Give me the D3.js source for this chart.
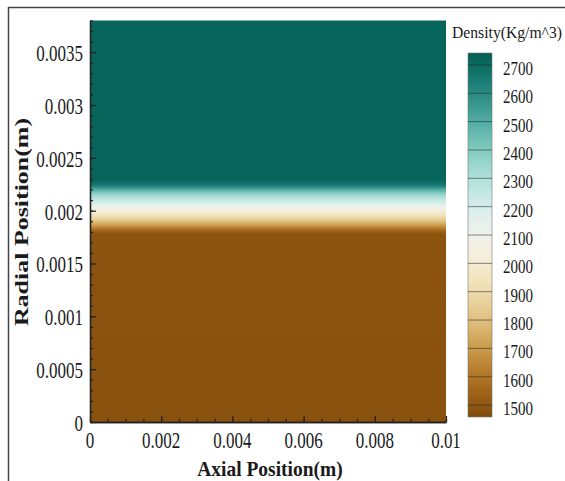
<!DOCTYPE html>
<html>
<head>
<meta charset="utf-8">
<script src="https://cdn.jsdelivr.net/npm/d3@7"></script>
<style>
  html, body { margin: 0; padding: 0; background: #fff; }
  svg { display: block; }
  text { font-family: "Liberation Serif", "DejaVu Serif", serif; fill: #1a1a1a; }
</style>
</head>
<body>
<svg id="chart" width="565" height="481"></svg>
<script>
// ---------------- data ----------------
const xDomain = [0, 0.01];
const yDomain = [0, 0.0038];
// radial density profile (uniform along the axial direction)
const radialPos = [0, 0.00178, 0.00182, 0.00186, 0.00191, 0.00196, 0.00201, 0.00205, 0.0021, 0.00215, 0.0022, 0.00224, 0.00229, 0.0038];
const density   = [1480, 1490, 1580, 1700, 1830, 1950, 2050, 2150, 2250, 2350, 2500, 2650, 2720, 2720];
const xTicks = [0, 0.002, 0.004, 0.006, 0.008, 0.01];
const xTickLabels = ["0", "0.002", "0.004", "0.006", "0.008", "0.01"];
const yTicks = [0, 0.0005, 0.001, 0.0015, 0.002, 0.0025, 0.003, 0.0035];
const yTickLabels = ["0", "0.0005", "0.001", "0.0015", "0.002", "0.0025", "0.003", "0.0035"];
const legendLevels = [1500, 1600, 1700, 1800, 1900, 2000, 2100, 2200, 2300, 2400, 2500, 2600, 2700];
const legendRange = [1458, 2742];
const xTitle = "Axial Position(m)";
const yTitle = "Radial Position(m)";
const legendTitle = "Density(Kg/m^3)";

// ---------------- layout ----------------
const svg = d3.select("#chart");
const plot = { left: 90, right: 446, top: 20.5, bottom: 422 };
const sy = 1.33; // vertical stretch of glyphs seen in reference

const x = d3.scaleLinear().domain(xDomain).range([plot.left, plot.right]);
const y = d3.scaleLinear().domain(yDomain).range([plot.bottom, plot.top]);
const tScale = d3.scaleLinear().domain(legendRange).range([0.08, 0.92]);
const color = v => d3.interpolateBrBG(tScale(v));

// outer frame
svg.append("line").attr("x1", 8).attr("x2", 565).attr("y1", 7.5).attr("y2", 7.5)
  .attr("stroke", "#444").attr("stroke-width", 1.5);
svg.append("line").attr("x1", 8.5).attr("x2", 8.5).attr("y1", 7).attr("y2", 481)
  .attr("stroke", "#444").attr("stroke-width", 1.5);

const defs = svg.append("defs");

// field gradient
const fg = defs.append("linearGradient").attr("id", "fieldGrad")
  .attr("gradientUnits", "userSpaceOnUse")
  .attr("x1", 0).attr("x2", 0).attr("y1", y(yDomain[0])).attr("y2", y(yDomain[1]));
const span = y(yDomain[1]) - y(yDomain[0]);
for (let i = 0; i < radialPos.length - 1; i++) {
  const n = 10;
  for (let k = 0; k <= n; k++) {
    const r = radialPos[i] + (radialPos[i + 1] - radialPos[i]) * k / n;
    const d = density[i] + (density[i + 1] - density[i]) * k / n;
    fg.append("stop").attr("offset", (y(r) - y(yDomain[0])) / span).attr("stop-color", color(d));
  }
}
svg.append("rect")
  .attr("x", x(xDomain[0])).attr("y", y(yDomain[1]))
  .attr("width", x(xDomain[1]) - x(xDomain[0]))
  .attr("height", y(yDomain[0]) - y(yDomain[1]))
  .attr("fill", "url(#fieldGrad)");

// axes ticks
const axisStyle = g => {
  g.selectAll("path.domain").attr("stroke", "#222").attr("stroke-width", 1.3);
  g.selectAll(".tick line").attr("stroke", "#222").attr("stroke-width", 1.2);
  g.selectAll(".tick text").remove();
};
svg.append("g").attr("transform", `translate(0,${plot.bottom})`)
  .call(d3.axisBottom(x).tickValues(d3.range(0, 0.01 + 1e-9, 0.0005)).tickSizeInner(-3).tickSizeOuter(0).tickFormat(""))
  .call(axisStyle);
svg.append("g").attr("transform", `translate(0,${plot.bottom})`)
  .call(d3.axisBottom(x).tickValues(xTicks).tickSizeInner(-6).tickSizeOuter(0).tickFormat(""))
  .call(axisStyle);
svg.append("g").attr("transform", `translate(${plot.left},0)`)
  .call(d3.axisLeft(y).tickValues(d3.range(0, 0.0038 + 1e-9, 0.0001)).tickSizeInner(-3).tickSizeOuter(0).tickFormat(""))
  .call(axisStyle);
svg.append("g").attr("transform", `translate(${plot.left},0)`)
  .call(d3.axisLeft(y).tickValues(yTicks).tickSizeInner(-6).tickSizeOuter(0).tickFormat(""))
  .call(axisStyle);

// tick labels
svg.append("g").selectAll("text").data(xTicks).join("text")
  .attr("transform", d => `translate(${x(d)},${plot.bottom + 18}) scale(1,${sy})`)
  .attr("text-anchor", "middle").attr("dominant-baseline", "central")
  .attr("font-size", 17)
  .text((d, i) => xTickLabels[i]);
svg.append("g").selectAll("text").data(yTicks).join("text")
  .attr("transform", d => `translate(${plot.left - 7},${y(d) + 1}) scale(1,${sy})`)
  .attr("text-anchor", "end").attr("dominant-baseline", "central")
  .attr("font-size", 17)
  .text((d, i) => yTickLabels[i]);

// axis titles
svg.append("text")
  .attr("transform", `translate(270,475.5) scale(1,1.1)`)
  .attr("text-anchor", "middle").attr("font-weight", "bold").attr("font-size", 19.5)
  .text(xTitle);
svg.append("text")
  .attr("transform", `translate(28,222) rotate(-90) scale(${sy},1)`)
  .attr("text-anchor", "middle").attr("font-weight", "bold").attr("font-size", 19.5)
  .text(yTitle);

// legend
const lg = { x: 468, w: 24, top: 53, bottom: 417 };
const cy = d3.scaleLinear().domain(legendRange).range([lg.bottom, lg.top]);
const lgGrad = defs.append("linearGradient").attr("id", "legGrad")
  .attr("gradientUnits", "userSpaceOnUse")
  .attr("x1", 0).attr("x2", 0).attr("y1", lg.bottom).attr("y2", lg.top);
d3.range(0, 41).forEach(i => {
  const v = legendRange[0] + (legendRange[1] - legendRange[0]) * i / 40;
  lgGrad.append("stop").attr("offset", i / 40).attr("stop-color", color(v));
});
svg.append("rect").attr("x", lg.x).attr("y", lg.top).attr("width", lg.w)
  .attr("height", lg.bottom - lg.top).attr("fill", "url(#legGrad)")
  .attr("stroke", "#777").attr("stroke-width", 0.6);
svg.append("g").selectAll("line").data(legendLevels).join("line")
  .attr("x1", lg.x).attr("x2", lg.x + lg.w)
  .attr("y1", d => cy(d)).attr("y2", d => cy(d))
  .attr("stroke", "rgba(40,40,40,0.55)").attr("stroke-width", 1);
svg.append("g").selectAll("text").data(legendLevels).join("text")
  .attr("transform", d => `translate(503,${cy(d) + 4}) scale(1,1.2)`)
  .attr("dominant-baseline", "central").attr("font-size", 15)
  .text(d => d);
svg.append("text")
  .attr("transform", `translate(452,32) scale(1,1.2)`)
  .attr("dominant-baseline", "central").attr("font-size", 14)
  .attr("textLength", 110).attr("lengthAdjust", "spacingAndGlyphs")
  .attr("fill", "#333")
  .text(legendTitle);
</script>
</body>
</html>
